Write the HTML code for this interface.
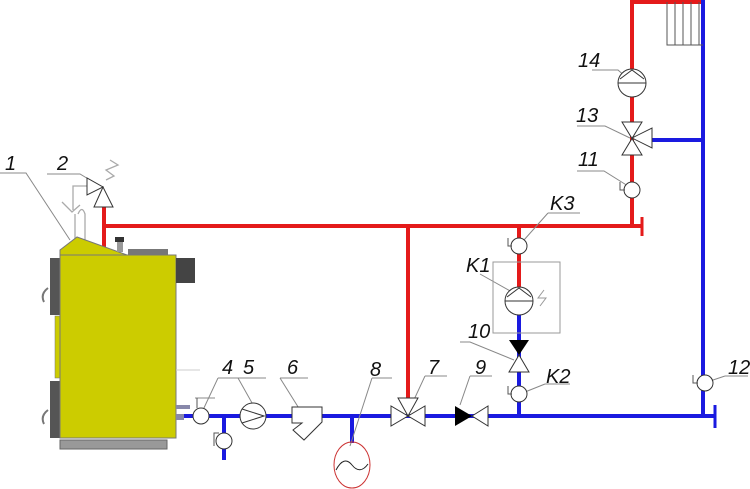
<!DOCTYPE html>
<html><head><style>body{margin:0;background:#fff}svg{display:block}text{font-family:"Liberation Sans",sans-serif;font-style:italic;font-size:20px;fill:#111}</style></head>
<body>
<svg width="750" height="489" viewBox="0 0 750 489" xmlns="http://www.w3.org/2000/svg">
<g fill="none" stroke-width="4">
<path d="M104 207V250M104 226H642M408 226V398M519 226V290M632 0V226M632 2H703" stroke="#e41a1a"/>
<path d="M642 217V236" stroke="#e41a1a" stroke-width="3"/>
<path d="M180 416H715M224 416V460M352 416V443M519 312V416M703 0V416M652 140H703" stroke="#1a1ae0"/>
<path d="M715 405V428" stroke="#1a1ae0" stroke-width="3"/>
</g>
<g stroke="#555" stroke-width="1" fill="none"><path d="M667 2V45H703M675 2V45M683 2V45M691 2V45M699 2V45"/></g>
<g stroke="#888" stroke-width="1" fill="none">
<path d="M0 173H26L70 240"/><path d="M47 174H80L95 183"/>
<path d="M592 70H618L627 78"/><path d="M577 126H605L630 138"/><path d="M577 171H604L628 186"/>
<path d="M548 213H580M548 213L524 240"/><path d="M480 274L512 292"/><path d="M460 342H470L514 360"/>
<path d="M545 384H570M545 384L525 392"/><path d="M725 376H748M725 376L710 381"/>
<path d="M470 376H492M470 376L460 405"/><path d="M425 376H447M425 376L412 404"/>
<path d="M372 378H392M372 378L350 446"/><path d="M280 378H308M280 378L300 410"/>
<path d="M238 378H266M238 378L256 410"/><path d="M218 378H243M218 378L203 410"/>
<path d="M195 398H215"/>
</g>
<g stroke="#aaa" stroke-width="1.3" fill="none">
<path d="M110 160L118 165L106 170L114 176L106 180"/>
<path d="M87 186H73V210M62 202L72 212L80 205M75 214V240M78 214Q82 205 85 214V240"/>
</g>
<rect x="60" y="440" width="107" height="9" fill="#999" stroke="#666"/>
<rect x="50" y="258" width="11" height="57" fill="#555"/>
<rect x="50" y="381" width="11" height="57" fill="#555"/>
<rect x="55" y="316" width="6" height="62" fill="#cccc00" stroke="#777" stroke-width="0.5"/>
<path d="M48 288q-8 6 -4 14M48 410q-8 6 -4 14" stroke="#777" stroke-width="2" fill="none"/>
<rect x="60" y="255" width="116" height="183" fill="#cccc00" stroke="#777" stroke-width="1"/>
<polygon points="60,255 60,250 77,237 127,255" fill="#cccc00" stroke="#777" stroke-width="1"/>
<rect x="128" y="249" width="40" height="6" fill="#777"/>
<rect x="176" y="258" width="19" height="25" fill="#444"/>
<rect x="117" y="240" width="6" height="12" fill="#999"/><rect x="115" y="237" width="9" height="5" fill="#333"/>
<rect x="176" y="405" width="14" height="4" fill="#88a"/><rect x="176" y="414" width="8" height="6" fill="#88a"/>
<path d="M176 370H200" stroke="#ccc"/>
<g fill="#fff" stroke="#333" stroke-width="1">
<polygon points="87,178 87,195 103,187"/><polygon points="103,187 94,207 113,207"/>
<circle cx="201" cy="416" r="8"/><circle cx="224" cy="441" r="8"/>
<circle cx="253" cy="416" r="13"/><path d="M242 409L264 416L242 423" fill="none"/>
<polygon points="292,407 322,407 322,422 304,440 293,430 302,423 292,423"/>
<polygon points="391,406 391,426 425,406 425,426"/><polygon points="398,398 418,398 408,416"/>
<polygon points="472,416 488,406 488,426"/>
<circle cx="519" cy="246" r="8"/><circle cx="519" cy="394" r="8"/>
<polygon points="519,355 509,372 529,372"/>
<circle cx="519" cy="301" r="14"/><path d="M505 301H533M507 297L519 288L531 297" fill="none"/>
<circle cx="632" cy="83" r="14"/><path d="M618 83H646M620 79L632 70L644 79" fill="none"/>
<polygon points="622,122 642,122 622,155 642,155"/><polygon points="632,138 652,128 652,148"/>
<circle cx="632" cy="190" r="8"/><circle cx="705" cy="383" r="8"/>
</g>
<polygon points="455,406 455,426 472,416" fill="#000"/>
<polygon points="509,340 529,340 519,355" fill="#000"/>
<g stroke="#555" stroke-width="1" fill="none">
<path d="M197 398V408M219 433H214V446M512 246H508V238M512 394H508V386M625 190H620V182M698 383H693V375"/>
</g>
<rect x="493" y="262" width="67" height="71" fill="none" stroke="#999" stroke-width="1"/>
<path d="M544 290L538 298H546L540 306" stroke="#999" fill="none"/>
<ellipse cx="352" cy="465" rx="18" ry="23" fill="none" stroke="#c33" stroke-width="1"/>
<path d="M336 470Q344 455 352 465T368 464" fill="none" stroke="#222"/>
<text x="5" y="170">1</text><text x="57" y="170">2</text>
<text x="578" y="67">14</text><text x="576" y="122">13</text><text x="578" y="166">11</text>
<text x="550" y="210">K3</text><text x="466" y="272">K1</text><text x="468" y="338">10</text>
<text x="546" y="383">K2</text><text x="728" y="374">12</text>
<text x="475" y="374">9</text><text x="428" y="374">7</text><text x="370" y="376">8</text>
<text x="287" y="374">6</text><text x="243" y="374">5</text><text x="222" y="374">4</text>
</svg>
</body></html>
